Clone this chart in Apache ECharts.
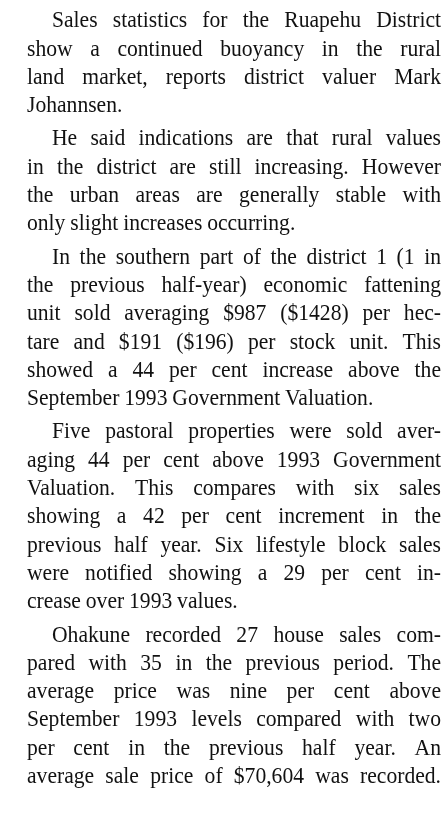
<!DOCTYPE html>
<html><head><meta charset="utf-8">
<script src="https://cdn.jsdelivr.net/npm/echarts@6/dist/echarts.min.js"></script>
<style>html,body{margin:0;padding:0;background:#fff}#c{width:448px;height:830px}</style>
</head><body><div id="c"></div>
<script>
const paragraph1 = ["Sales statistics for the Ruapehu District","show a continued buoyancy in the rural","land market, reports district valuer Mark","Johannsen."];
const paragraph2 = ["He said indications are that rural values","in the district are still increasing. However","the urban areas are generally stable with","only slight increases occurring."];
const paragraph3 = ["In the southern part of the district 1 (1 in","the previous half-year) economic fattening","unit sold averaging $987 ($1428) per hec-","tare and $191 ($196) per stock unit. This","showed a 44 per cent increase above the","September 1993 Government Valuation."];
const paragraph4 = ["Five pastoral properties were sold aver-","aging 44 per cent above 1993 Government","Valuation. This compares with six sales","showing a 42 per cent increment in the","previous half year. Six lifestyle block sales","were notified showing a 29 per cent in-","crease over 1993 values."];
const paragraph5 = ["Ohakune recorded 27 house sales com-","pared with 35 in the previous period. The","average price was nine per cent above","September 1993 levels compared with two","per cent in the previous half year. An","average sale price of $70,604 was recorded."];
const paragraphs = [paragraph1,paragraph2,paragraph3,paragraph4,paragraph5];

const FONT = '24px "Liberation Serif"';
const ctx = document.createElement('canvas').getContext('2d');
ctx.font = FONT;
const L = 27, R = 441, IND = 52, LH = 28.3, GAP = 5;
const SC = 0.9;
let y = 21;
const els = [];
paragraphs.forEach(p => {
  p.forEach((line, i) => {
    const x0 = i === 0 ? IND : L;
    const words = line.split(' ');
    const last = i === p.length - 1;
    const ws = words.map(w => ctx.measureText(w).width * SC);
    const tot = ws.reduce((a,b)=>a+b,0);
    const minSp = 3;
    let sc = 1;
    if (tot + minSp * (words.length - 1) > R - x0) sc = (R - x0 - minSp * (words.length - 1)) / tot;
    let sp = last ? ctx.measureText(' ').width * SC * 0.9 : (R - x0 - tot * sc) / Math.max(1, words.length - 1);
    if (last && line.startsWith('average sale')) sp = (R - x0 - tot * sc) / Math.max(1, words.length - 1);
    let x = x0;
    words.forEach((w, k) => {
      els.push({type:'text', x: x, y: y, scaleX: SC * sc, style:{text:w, font:FONT, fill:'#111', textVerticalAlign:'middle'}});
      x += ws[k] * sc + sp;
    });
    y += LH;
  });
  y += GAP;
});
const chart = echarts.init(document.getElementById('c'));
chart.setOption({graphic: els});
</script></body></html>
